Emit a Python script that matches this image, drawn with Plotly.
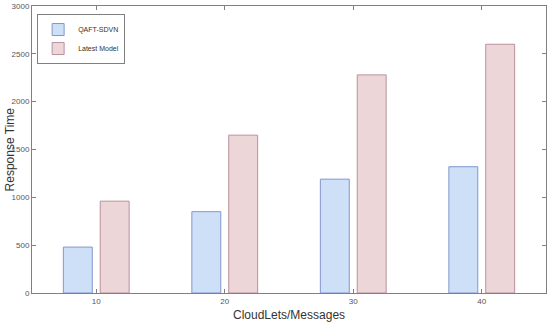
import plotly.graph_objects as go

# data
cloudlets = [10, 20, 30, 40]
qaft_sdvn = [480, 850, 1190, 1320]
latest_model = [960, 1650, 2280, 2600]
y_ticks = [0, 500, 1000, 1500, 2000, 2500, 3000]

fig = go.Figure()
fig.add_trace(go.Bar(
    x=cloudlets, y=qaft_sdvn, name="QAFT-SDVN",
    marker=dict(color="rgb(206,224,247)", line=dict(color="rgb(130,150,205)", width=1)),
))
fig.add_trace(go.Bar(
    x=cloudlets, y=latest_model, name="Latest Model",
    marker=dict(color="rgb(236,214,216)", line=dict(color="rgb(185,145,158)", width=1)),
))

axis_style = dict(
    showline=True, linecolor="#808080", linewidth=1, mirror="ticks",
    ticks="inside", ticklen=4, tickcolor="#808080",
    showgrid=False, zeroline=False, automargin=False,
    tickfont=dict(family="Liberation Sans, Arial", size=8, color="#555555"),
)

fig.update_layout(
    width=550, height=325,
    margin=dict(l=32, r=4, t=6, b=32),
    paper_bgcolor="white", plot_bgcolor="white",
    barmode="group", bargap=0.426, bargroupgap=0.216,
    showlegend=True,
    legend=dict(
        x=0.01, y=0.972, xanchor="left", yanchor="top",
        bgcolor="white", bordercolor="#808080", borderwidth=1,
        font=dict(family="Liberation Sans, Arial", size=7, color="#333333"),
        itemwidth=30, tracegroupgap=0,
    ),
    xaxis=dict(axis_style, range=[5, 45], tickvals=cloudlets),
    yaxis=dict(axis_style, range=[0, 3000], tickvals=y_ticks),
)

# axis titles placed as annotations to keep the plot area fixed
fig.add_annotation(
    text="CloudLets/Messages", xref="paper", yref="paper", x=0.5, y=-0.077,
    xanchor="center", yanchor="middle", showarrow=False,
    font=dict(family="Liberation Sans, Arial", size=12, color="#333333"),
)
fig.add_annotation(
    text="Response Time", xref="paper", yref="paper", x=-0.043, y=0.5,
    xanchor="center", yanchor="middle", showarrow=False, textangle=-90,
    font=dict(family="Liberation Sans, Arial", size=12, color="#333333"),
)

# drop the default page margin so the figure sits at the window's corner
fig.write_html("out.html", config={"displayModeBar": False},
               post_script="document.body.style.margin='0';")
